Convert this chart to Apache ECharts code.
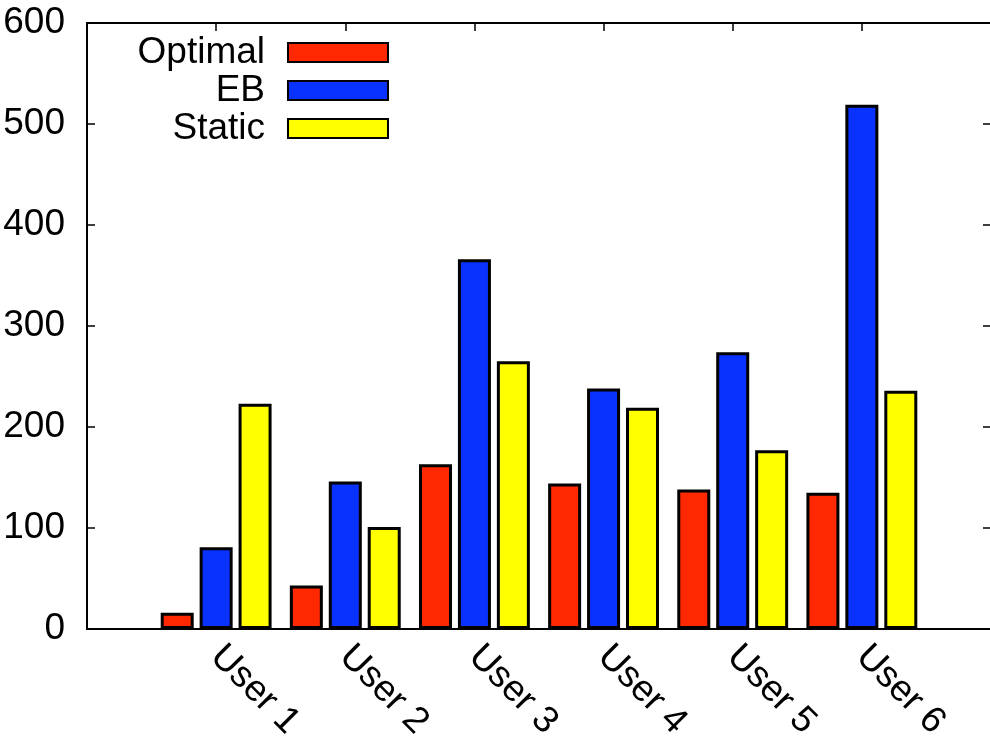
<!DOCTYPE html>
<html>
<head>
<meta charset="utf-8">
<script src="https://cdn.jsdelivr.net/npm/echarts@6/dist/echarts.min.js"></script>
<style>
  html, body { margin: 0; padding: 0; background: #fff; }
  #chart { width: 990px; height: 738px; }
</style>
</head>
<body>
<div id="chart"></div>
<script>
// padded with empty slots so the axis runs from one gap before User 1 to one after User 6
var categories = ['', 'User 1', 'User 2', 'User 3', 'User 4', 'User 5', 'User 6', ''];
var optimal = ['-', 16, 43, 163, 144, 138, 135, '-'];
var eb      = ['-', 81, 146, 366, 238, 274, 519, '-'];
var stat    = ['-', 223, 101, 265, 219, 177, 236, '-'];
var yTicks  = [0, 100, 200, 300, 400, 500, 600];

var font = 'Liberation Sans, Arial, Helvetica, sans-serif';

function bar(name, data, color) {
	return {
		name: name,
		type: 'bar',
		data: data,
		barWidth: 33,
		barGap: '18%',
		itemStyle: { color: color, borderColor: '#000', borderWidth: 3 }
	};
}

var myChart = echarts.init(document.getElementById('chart'));
var option = {
	animation: false,
	grid: { left: 87, right: -1, top: 23, bottom: 109, containLabel: false, outerBoundsMode: 'none' },
	legend: {
		orient: 'vertical',
		align: 'right',
		right: 601,
		top: 34,
		padding: 0,
		itemWidth: 100,
		itemHeight: 19,
		itemGap: 1,
		icon: 'rect',
		textStyle: { fontFamily: font, fontSize: 37, color: '#000', padding: [0, 18, 0, 0] },
		data: ['Optimal', 'EB', 'Static']
	},
	xAxis: [{
		type: 'category',
		data: categories,
		boundaryGap: false,
		position: 'bottom',
		axisLine: { onZero: false, lineStyle: { color: '#000', width: 2 } },
		axisTick: { show: false },
		axisLabel: {
			rotate: -45,
			interval: 0,
			margin: 22,
			fontFamily: font,
			fontSize: 37,
			color: '#000'
		}
	}, {
		type: 'category',
		data: categories,
		boundaryGap: false,
		position: 'top',
		axisLine: { onZero: false, lineStyle: { color: '#000', width: 2 } },
		axisTick: { show: true, inside: true, length: 8, interval: 0, lineStyle: { color: '#000', width: 1.5 } },
		axisLabel: { show: false }
	}],
	yAxis: [{
		type: 'value',
		min: yTicks[0],
		max: yTicks[yTicks.length - 1],
		interval: 100,
		position: 'left',
		splitLine: { show: false },
		axisLine: { show: true, onZero: false, lineStyle: { color: '#000', width: 2 } },
		axisTick: { show: true, inside: true, length: 8, lineStyle: { color: '#000', width: 1.5 } },
		axisLabel: { margin: 22, fontFamily: font, fontSize: 37, color: '#000' }
	}, {
		type: 'value',
		min: yTicks[0],
		max: yTicks[yTicks.length - 1],
		interval: 100,
		position: 'right',
		splitLine: { show: false },
		axisLine: { show: true, onZero: false, lineStyle: { color: '#000', width: 2 } },
		axisTick: { show: true, inside: true, length: 8, lineStyle: { color: '#000', width: 1.5 } },
		axisLabel: { show: false }
	}],
	series: [
		bar('Optimal', optimal, '#ff2800'),
		bar('EB', eb, '#0a32ff'),
		bar('Static', stat, '#ffff00')
	]
};
myChart.setOption(option);
</script>
</body>
</html>
